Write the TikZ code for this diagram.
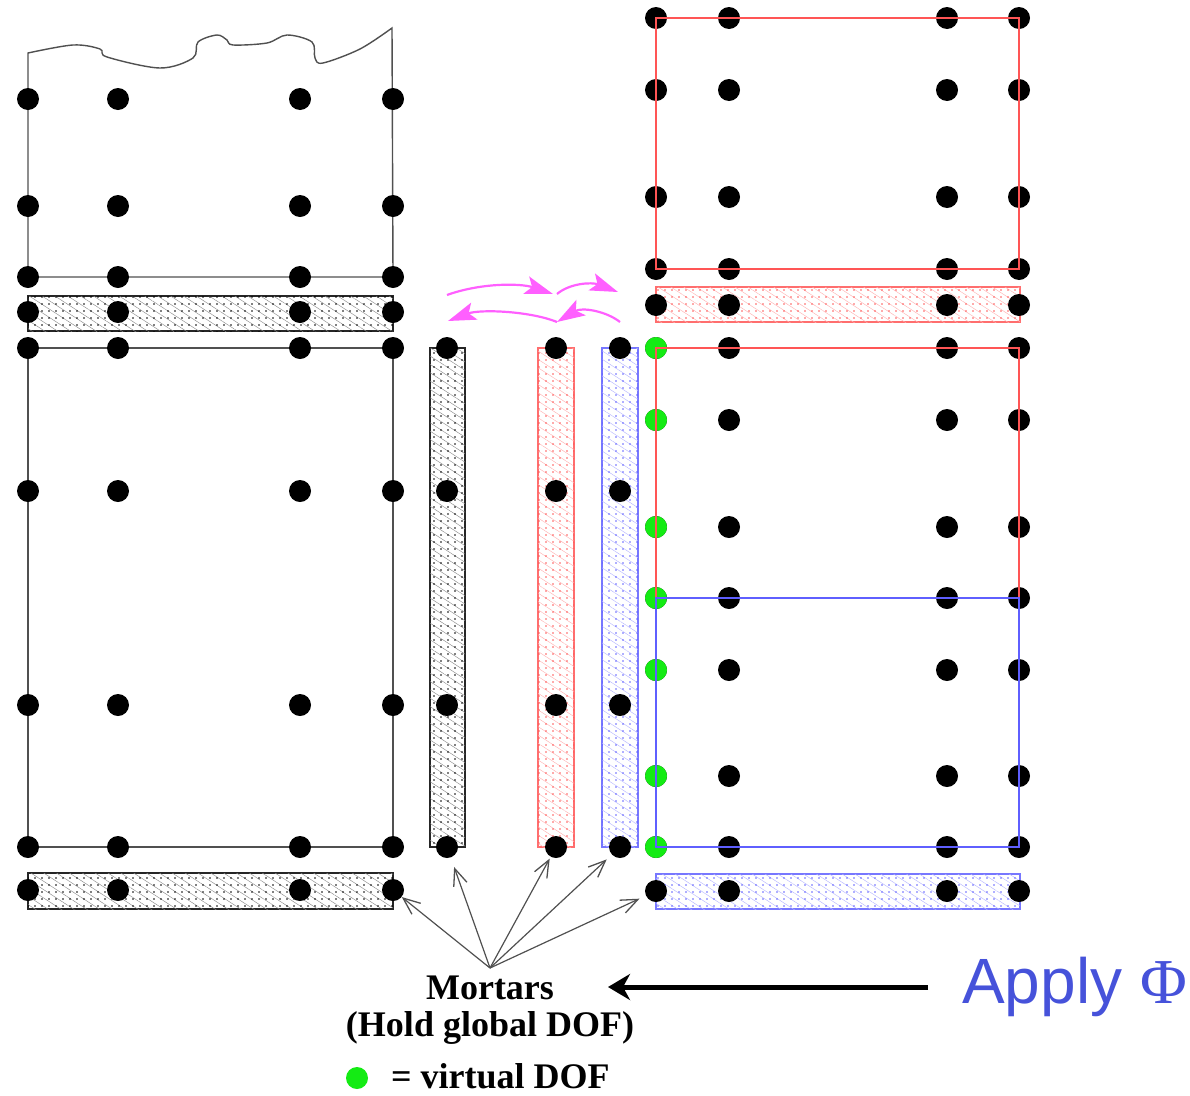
\documentclass[tikz,border=0pt]{standalone}
\usepackage{fontspec}
\setmainfont{Liberation Serif}
\newfontfamily\applyfont{Liberation Sans}
\newfontfamily\phifont{Liberation Serif}
\usetikzlibrary{arrows.meta,patterns.meta}
\definecolor{myred}{RGB}{255,85,85}
\definecolor{myblue}{RGB}{95,95,255}
\definecolor{mygray}{RGB}{80,80,80}
\definecolor{mymag}{RGB}{255,95,255}
\definecolor{mygreen}{RGB}{20,235,20}
\definecolor{applyblue}{RGB}{70,82,218}
\tikzset{
  dof/.style={circle,fill=black,inner sep=0pt,minimum size=22pt},
  vdof/.style={dof,fill=mygreen},
  lframe/.style={draw=mygray,line width=1.4pt},
  rframe/.style={draw=#1,line width=1.6pt},
  hbar/.style={draw=#1!85,line width=1.3pt,
    postaction={pattern={Lines[angle=-33,distance=7pt,line width=0.45pt]},pattern color=#1!45},
    postaction={pattern={Dots[distance=7pt,radius=0.85pt]},pattern color=#1}},
  marrow/.style={draw=mygray,line width=1.2pt,-{Straight Barb[length=17pt,width=14pt,line width=1.3pt]}},
  magarrow/.style={draw=mymag,line width=2.2pt,-{Stealth[length=28pt,width=18pt,inset=6pt]}},
  bigarrow/.style={draw=black,line width=5pt,-{Stealth[length=22pt,width=26pt,inset=7pt]}},
  lbl/.style={font=\bfseries\fontsize{36}{37}\selectfont,inner sep=0pt,align=center}
}
\begin{document}
\begin{tikzpicture}[x=1pt,y=-1pt]
\useasboundingbox (0,0) rectangle (1190,1095);

% left cut-off block
\draw[lframe] (28,277) -- (28,53) -- plot[smooth,tension=0.55] coordinates {(28,53) (73,45) (100,49) (107,57) (160,68) (193,58) (198,42) (217,35) (227,40) (233,45) (267,43) (287,35) (312,42) (315,58) (323,63) (360,49) (392,28)} -- (393,277) -- cycle;
\draw[lframe] (28,348) rectangle (393,847);

% mortar bars
\draw[hbar=black] (28,296) rectangle (393,331);
\draw[hbar=black] (28,873) rectangle (393,909);
\draw[hbar=black] (430,348) rectangle (465,847);
\draw[hbar=myred] (538,348) rectangle (574,847);
\draw[hbar=myblue] (602,348) rectangle (638,847);
\draw[hbar=myred] (656,287) rectangle (1020,322);
\draw[hbar=myblue] (656,874) rectangle (1020,909);

% left dots
\foreach \x [count=\i] in {28,118,300,393}
  \foreach \y [count=\j] in {99,206,277,312,348,491,705,847,890}
    \node[dof] (L\i-\j) at (\x,\y) {};

% middle mortar dots
\foreach \y [count=\j] in {348,491,705,847} {
  \node[dof] (G-\j) at (447,\y) {};
  \node[dof] (R-\j) at (556,\y) {};
  \node[dof] (B-\j) at (620,\y) {};
}

% right dots
\foreach \x [count=\i] in {656,729,947,1019}
  \foreach \y [count=\j] in {18,90,197,269,305,348,420,527,598,670,776,847,891}
    \node[dof] (Q\i-\j) at (\x,\y) {};
\foreach \y [count=\j] in {348,420,527,598,670,776,847}
  \node[vdof] (V-\j) at (656,\y) {};

% right frames (over the dots)
\draw[rframe=myred] (656,18) rectangle (1019,269);
\draw[rframe=myred] (656,348) rectangle (1019,598);
\draw[rframe=myblue] (656,598) rectangle (1019,847);

% magenta exchange arrows
\coordinate (m1) at (447,295);
\coordinate (m2) at (553,294);
\coordinate (m3) at (557,294);
\coordinate (m4) at (618,292);
\coordinate (m5) at (620,322);
\coordinate (m6) at (557,322);
\coordinate (m7) at (448,321);
\draw[magarrow] (m1) .. controls (480,283) and (520,283) .. (m2);
\draw[magarrow] (m3) .. controls (570,283) and (592,282) .. (m4);
\draw[magarrow] (m5) .. controls (606,311) and (582,307) .. (m6);
\draw[magarrow] (m6) .. controls (530,311) and (480,309) .. (m7);

% labels
\node[lbl] (mort) at (490,1010) {Mortars\\(Hold global DOF)};
\coordinate (apex) at (490,968);
\draw[marrow] (apex) -- (L4-9);
\draw[marrow,shorten >=10pt] (apex) -- (G-4);
\draw[marrow,shorten >=2pt] (apex) -- (R-4);
\draw[marrow,shorten >=7pt] (apex) -- (B-4);
\draw[marrow,shorten >=7pt] (apex) -- (Q1-13);

\node[vdof,minimum size=22pt] (leg) at (357,1078) {};
\node[lbl,anchor=base west] (legtxt) at (391,1088) {= virtual DOF};

\node[anchor=base west,inner sep=0pt,text=applyblue,font=\applyfont\fontsize{64}{70}\selectfont] (apply) at (962,1003) {Apply {\phifont Φ}};
\coordinate (astart) at (928,987);
\coordinate (atip) at (608,987);
\draw[bigarrow] (astart) -- (atip);
\end{tikzpicture}
\end{document}
